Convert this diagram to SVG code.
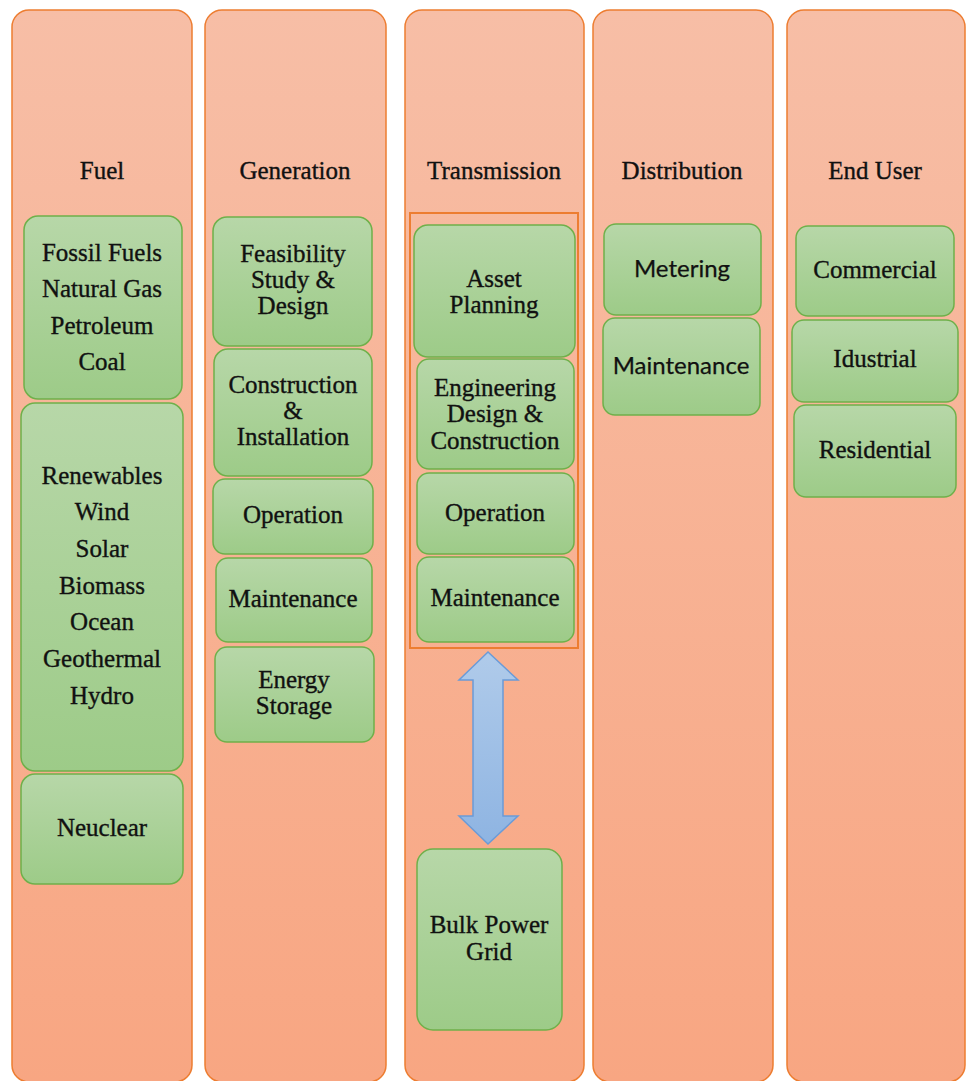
<svg xmlns="http://www.w3.org/2000/svg" width="966" height="1081" viewBox="0 0 966 1081">
<defs>
<linearGradient id="colG" x1="0" y1="0" x2="0" y2="1">
<stop offset="0" stop-color="#f7bea6"/>
<stop offset="1" stop-color="#f8a682"/>
</linearGradient>
<linearGradient id="boxG" x1="0" y1="0" x2="0" y2="1">
<stop offset="0" stop-color="#b7d7a8"/>
<stop offset="1" stop-color="#9dcb88"/>
</linearGradient>
<linearGradient id="arrG" x1="0" y1="0" x2="0" y2="1">
<stop offset="0" stop-color="#b0cbea"/>
<stop offset="1" stop-color="#8eb4e2"/>
</linearGradient>
<style>
.col{fill:url(#colG);stroke:#ed7d31;stroke-width:1.5}
.box{fill:url(#boxG);stroke:#6fb04a;stroke-width:1.5}
.t{font-family:"Liberation Serif","Times New Roman",serif;font-size:25px;fill:#111;stroke:#111;stroke-width:0.35;text-anchor:middle}
.s{font-family:Lato,"Open Sans",sans-serif;font-size:24px;fill:#111;stroke:#111;stroke-width:0.25;text-anchor:middle}
</style>
</defs>
<rect width="966" height="1081" fill="#ffffff"/>
<g id="col-fuel">
<rect class="col" x="12" y="10" width="180" height="1072" rx="17"/>
<text class="t" x="102" y="179">Fuel</text>
</g>
<g id="col-generation">
<rect class="col" x="205" y="10" width="181" height="1072" rx="17"/>
<text class="t" x="295" y="179">Generation</text>
</g>
<g id="col-transmission">
<rect class="col" x="405" y="10" width="179" height="1072" rx="17"/>
<text class="t" x="494" y="179">Transmission</text>
</g>
<g id="col-distribution">
<rect class="col" x="593" y="10" width="180" height="1072" rx="17"/>
<text class="t" x="682" y="179">Distribution</text>
</g>
<g id="col-enduser">
<rect class="col" x="787" y="10" width="178" height="1072" rx="17"/>
<text class="t" x="875" y="179">End User</text>
</g>

<g id="fossil">
<rect class="box" x="24" y="216" width="158" height="183" rx="14"/>
<text class="t" x="102" y="261">Fossil Fuels</text>
<text class="t" x="102" y="297">Natural Gas</text>
<text class="t" x="102" y="334">Petroleum</text>
<text class="t" x="102" y="370">Coal</text>
</g>
<g id="renewables">
<rect class="box" x="21" y="403" width="162" height="368" rx="14"/>
<text class="t" x="102" y="484">Renewables</text>
<text class="t" x="102" y="520">Wind</text>
<text class="t" x="102" y="557">Solar</text>
<text class="t" x="102" y="594">Biomass</text>
<text class="t" x="102" y="630">Ocean</text>
<text class="t" x="102" y="667">Geothermal</text>
<text class="t" x="102" y="704">Hydro</text>
</g>
<g id="nuclear">
<rect class="box" x="21" y="774" width="162" height="110" rx="14"/>
<text class="t" x="102" y="836">Neuclear</text>
</g>

<g id="feasibility">
<rect class="box" x="213" y="217" width="159" height="129" rx="14"/>
<text class="t" x="293" y="262">Feasibility</text>
<text class="t" x="293" y="288">Study &amp;</text>
<text class="t" x="293" y="314">Design</text>
</g>
<g id="construction">
<rect class="box" x="214" y="349" width="158" height="127" rx="14"/>
<text class="t" x="293" y="393">Construction</text>
<text class="t" x="293" y="419">&amp;</text>
<text class="t" x="293" y="445">Installation</text>
</g>
<g id="gen-operation">
<rect class="box" x="213" y="479" width="160" height="75" rx="12"/>
<text class="t" x="293" y="523">Operation</text>
</g>
<g id="gen-maintenance">
<rect class="box" x="216" y="558" width="156" height="84" rx="12"/>
<text class="t" x="293" y="607">Maintenance</text>
</g>
<g id="energy-storage">
<rect class="box" x="215" y="647" width="159" height="95" rx="12"/>
<text class="t" x="294" y="688">Energy</text>
<text class="t" x="294" y="714">Storage</text>
</g>

<g id="transmission-group">
<rect x="410" y="213" width="168" height="435" fill="none" stroke="#ed7d31" stroke-width="2"/>
</g>
<g id="asset-planning">
<rect class="box" x="414" y="225" width="161" height="132" rx="14"/>
<text class="t" x="494" y="287">Asset</text>
<text class="t" x="494" y="313">Planning</text>
</g>
<g id="engineering">
<rect class="box" x="417" y="359" width="157" height="110" rx="12"/>
<text class="t" x="495" y="396">Engineering</text>
<text class="t" x="495" y="422">Design &amp;</text>
<text class="t" x="495" y="449">Construction</text>
</g>
<g id="tr-operation">
<rect class="box" x="417" y="473" width="157" height="81" rx="12"/>
<text class="t" x="495" y="521">Operation</text>
</g>
<g id="tr-maintenance">
<rect class="box" x="417" y="557" width="157" height="85" rx="12"/>
<text class="t" x="495" y="606">Maintenance</text>
</g>
<g id="bulk-power-grid">
<rect class="box" x="417" y="849" width="145" height="181" rx="16"/>
<text class="t" x="489" y="933">Bulk Power</text>
<text class="t" x="489" y="960">Grid</text>
</g>

<g id="metering">
<rect class="box" x="604" y="224" width="157" height="91" rx="12"/>
<text class="s" x="682" y="277">Metering</text>
</g>
<g id="dist-maintenance">
<rect class="box" x="603" y="318" width="157" height="97" rx="12"/>
<text class="s" x="681" y="374">Maintenance</text>
</g>

<g id="commercial">
<rect class="box" x="796" y="226" width="158" height="90" rx="12"/>
<text class="t" x="875" y="278">Commercial</text>
</g>
<g id="industrial">
<rect class="box" x="792" y="320" width="166" height="82" rx="12"/>
<text class="t" x="875" y="367">Idustrial</text>
</g>
<g id="residential">
<rect class="box" x="794" y="405" width="162" height="92" rx="12"/>
<text class="t" x="875" y="458">Residential</text>
</g>

<g id="connectors">
<path d="M488,652 L518,680 L503,680 L503,816 L518,816 L488,844 L459,816 L473,816 L473,680 L459,680 Z" fill="url(#arrG)" stroke="#6a9bd8" stroke-width="1.5" stroke-linejoin="miter"/>
</g>
</svg>
